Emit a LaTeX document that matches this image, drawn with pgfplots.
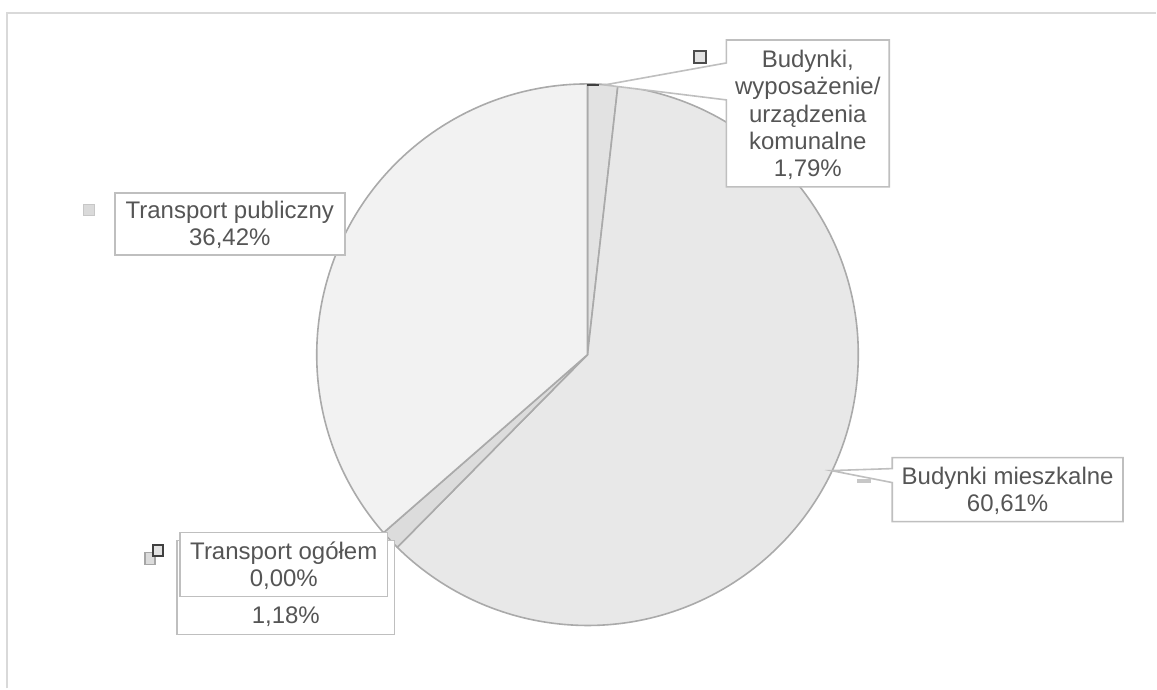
\documentclass[border=0pt]{standalone}
\usepackage{pgfplots}
\pgfplotsset{compat=1.18}
\usepackage{fontspec}
\setmainfont{Liberation Sans}
\definecolor{txt}{HTML}{555555}
\definecolor{boxc}{HTML}{BFBFBF}
\definecolor{frame}{HTML}{D9D9D9}
\definecolor{edge}{HTML}{AAAAAA}
\definecolor{cKom}{HTML}{E2E2E2}
\definecolor{cMie}{HTML}{E8E8E8}
\definecolor{cX}{HTML}{DCDCDC}
\definecolor{cTog}{HTML}{D0D0D0}
\definecolor{cTpub}{HTML}{F2F2F2}
\begin{document}
\begin{tikzpicture}
% shares in percent, clockwise from 12 o'clock
\def\vKom{1.79}
\def\vMie{60.61}
\def\vX{1.18}
\def\vTog{0.00}
\def\vTpub{36.42}
\pgfmathsetmacro\aZero{90}
\pgfmathsetmacro\aOne{\aZero-3.6*\vKom}
\pgfmathsetmacro\aTwo{\aOne-3.6*\vMie}
\pgfmathsetmacro\aThree{\aTwo-3.6*\vX}
\pgfmathsetmacro\aFour{\aThree-3.6*\vTog}
\pgfmathsetmacro\aFive{\aFour-3.6*\vTpub}
\def\R{135.5pt}
\begin{axis}[x=0.5pt, y=0.5pt, xmin=0, xmax=1157, ymin=0, ymax=689,
  y dir=reverse, hide axis, scale only axis, clip=false]
\path (rel axis cs:0,0) rectangle (rel axis cs:1,1);
% frame
\draw[frame, line width=1pt] (axis cs:7,689) -- (axis cs:7,13) -- (axis cs:1157,13);
% pie slices
\filldraw[fill=cKom, draw=edge, line width=0.8pt, line join=round] (axis cs:588,355) -- ++(\aZero:\R) arc[start angle=\aZero, end angle=\aOne, radius=\R] -- cycle;
\filldraw[fill=cMie, draw=edge, line width=0.8pt, line join=round] (axis cs:588,355) -- ++(\aOne:\R) arc[start angle=\aOne, end angle=\aTwo, radius=\R] -- cycle;
\filldraw[fill=cX, draw=edge, line width=0.8pt, line join=round] (axis cs:588,355) -- ++(\aTwo:\R) arc[start angle=\aTwo, end angle=\aThree, radius=\R] -- cycle;
\filldraw[fill=cTpub, draw=edge, line width=0.8pt, line join=round] (axis cs:588,355) -- ++(\aFour:\R) arc[start angle=\aFour, end angle=\aFive, radius=\R] -- cycle;
\draw[black!75, line width=1pt] (axis cs:588,85) -- (axis cs:600,85);
% label boxes with callouts
\filldraw[fill=white, draw=boxc, line width=0.8pt] (axis cs:727,40) -- (axis cs:890,40) -- (axis cs:890,187) -- (axis cs:727,187) -- (axis cs:727,100) -- (axis cs:605,85) -- (axis cs:727,63) -- cycle;
\filldraw[fill=white, draw=boxc, line width=0.8pt] (axis cs:893,458) -- (axis cs:1124,458) -- (axis cs:1124,522) -- (axis cs:893,522) -- (axis cs:893,483) -- (axis cs:832,471) -- (axis cs:893,469) -- cycle;
\filldraw[fill=white, draw=boxc, line width=0.8pt] (axis cs:115,193) rectangle (axis cs:345,255);
\filldraw[fill=white, draw=boxc, line width=0.8pt] (axis cs:177,541) rectangle (axis cs:395,635);
\filldraw[fill=white, draw=boxc, line width=0.8pt] (axis cs:180,533) rectangle (axis cs:388,597);
% legend keys
\filldraw[fill=cTpub!90!black, draw=black!22, line width=0.5pt] (axis cs:84,205) rectangle (axis cs:95,216);
\filldraw[fill=cKom, draw=black!70, line width=1pt] (axis cs:695,51) rectangle (axis cs:707,63);
\fill[black!22] (axis cs:858,479) rectangle (axis cs:872,483);
\filldraw[fill=cX, draw=black!35, line width=0.7pt] (axis cs:145,553) rectangle (axis cs:155,565);
\filldraw[fill=cTog!60!white, draw=black!75, line width=1pt] (axis cs:153,545) rectangle (axis cs:163,556);
% texts
\begin{scope}[every node/.style={text=txt, align=center, font=\fontsize{12}{13.6}\selectfont, inner sep=0pt}]
\node at (axis cs:808.5,115) {Budynki,\\wyposażenie/\\urządzenia\\komunalne\\1,79\%};
\node at (axis cs:230,225) {Transport publiczny\\36,42\%};
\node at (axis cs:1008.5,491) {Budynki mieszkalne\\60,61\%};
\node at (axis cs:284,566) {Transport ogółem\\0,00\%};
\node[anchor=base] at (axis cs:286,624) {1,18\%};
\end{scope}
\end{axis}
\end{tikzpicture}
\end{document}
